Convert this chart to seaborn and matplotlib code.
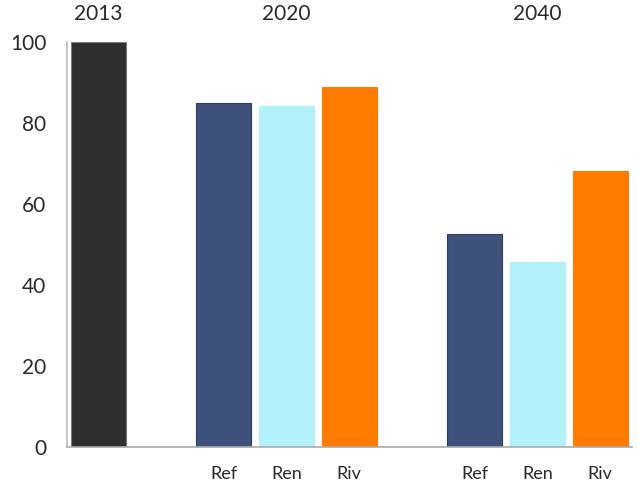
import matplotlib
matplotlib.use("Agg")
import matplotlib.pyplot as plt
import seaborn as sns
import pandas as pd

# Data
groups = ["2013", "2020", "2040"]
scenarios_2020 = ["Ref", "Ren", "Riv"]
scenarios_2040 = ["Ref", "Ren", "Riv"]
value_2013 = [100]
values_2020 = [85, 84.2, 88.9]
values_2040 = [52.6, 45.7, 68.1]
y_ticks = [0, 20, 40, 60, 80, 100]

col_2013 = "#2f2f2f"
scen_colors = {"Ref": "#3e527b", "Ren": "#b3f1fa", "Riv": "#ff7b00"}

# Build table (positions: one slot per bar, one empty slot between groups)
rows = []
rows.append(dict(pos=0, val=value_2013[0], label="", color=col_2013, grp="2013"))
for i, (s, v) in enumerate(zip(scenarios_2020, values_2020)):
    rows.append(dict(pos=2 + i, val=v, label=s, color=scen_colors[s], grp="2020"))
for i, (s, v) in enumerate(zip(scenarios_2040, values_2040)):
    rows.append(dict(pos=6 + i, val=v, label=s, color=scen_colors[s], grp="2040"))
df = pd.DataFrame(rows)

sns.set_style("white")
plt.rcParams["font.family"] = ["Lato", "DejaVu Sans"]

fig = plt.figure(figsize=(6.38, 4.88), dpi=100)
ax = fig.add_axes([0.105, 0.084, 0.885, 0.83])

sns.barplot(data=df, x="pos", y="val", hue="pos", palette=list(df["color"]),
            native_scale=True, width=0.88, legend=False, ax=ax, saturation=1)

edge = ["#7a7a7a", "#2c3d60", "#b3f1fa", "#ff7b00", "#2c3d60", "#b3f1fa", "#ff7b00"]
for p, e in zip(ax.patches, edge):
    p.set_edgecolor(e)
    p.set_linewidth(0.8)

txt = "#2a2a2a"
ax.set_xlim(-0.5, 8.5)
ax.set_ylim(0, 100)
ax.set_yticks(y_ticks)
ax.set_yticklabels([str(t) for t in y_ticks], fontsize=15, color=txt)
ax.set_xticks(list(df["pos"][1:]))
ax.set_xticklabels(list(df["label"][1:]), fontsize=13, color=txt)
ax.set_xlabel("")
ax.set_ylabel("")
ax.tick_params(axis="y", direction="in", length=3, width=0.8, color="#aaaaaa", pad=15)
ax.tick_params(axis="x", length=0, pad=14)

for side in ["top", "right"]:
    ax.spines[side].set_visible(False)
ax.spines["left"].set_color("#bbbbbb")
ax.spines["bottom"].set_color("#aaaaaa")
ax.spines["left"].set_linewidth(1.2)
ax.spines["bottom"].set_linewidth(1.2)

# Group year labels above
for g, pos in zip(groups, [0, 3, 7]):
    ax.text(pos, 1.07, g, transform=ax.get_xaxis_transform(), ha="center", va="center",
            fontsize=15, color=txt)

fig.savefig("out.png", dpi=100)
